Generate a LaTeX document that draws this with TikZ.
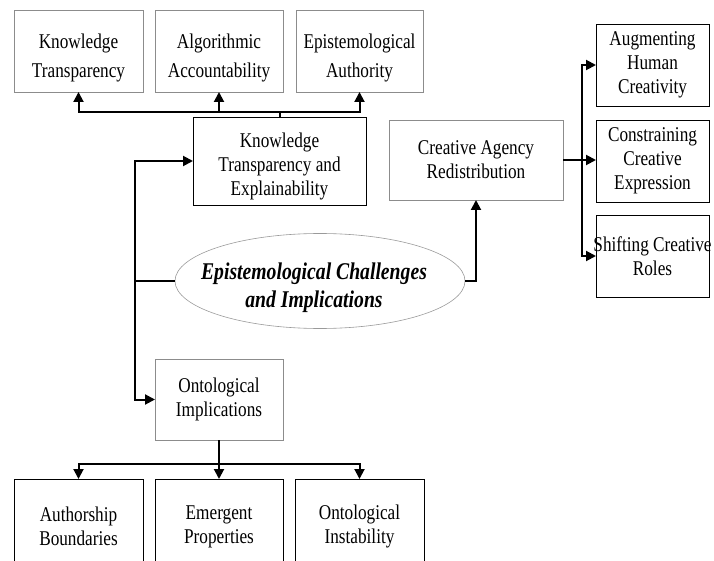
\documentclass[tikz,border=0pt]{standalone}
\usepackage{fontspec}
\setmainfont{Liberation Serif}[FakeStretch=0.82]
\usetikzlibrary{arrows.meta,shapes.geometric}
\definecolor{outlinegray}{HTML}{8C8C8C}
\definecolor{ellipsegray}{HTML}{9A9A9A}
% Invisible strut on a first line, to sit a text block a little lower.
\newcommand{\dropline}[1]{\rule{0pt}{#1}}

\begin{document}
\begin{tikzpicture}[
  x=1pt,
  y=-1pt,
  line join=miter,
  every node/.style={inner sep=0pt,outer sep=0pt,align=flush center,font=\fontsize{21}{24}\selectfont},
  softbox/.style={draw=outlinegray,line width=0.8pt},
  hardbox/.style={draw=black,line width=0.9pt},
  hub/.style={ellipse,draw=ellipsegray,line width=0.6pt,minimum width=290pt,minimum height=95pt,
    font=\fontsize{24}{28}\selectfont\bfseries\itshape},
  link/.style={draw=black,line width=2pt},
  arrow/.style={link,-{Triangle[length=10pt,width=10pt]}}
]
  % Match the screenshot frame; the bottom row runs past the lower edge.
  \useasboundingbox (0,0) rectangle (714.000,561.000);
  \clip (0,0) rectangle (714.000,561.000);

  % Bus lines shared by the branching connectors.
  \coordinate (tbus) at (0,112.000);
  \coordinate (bbus) at (0,464.000);
  \coordinate (lbus) at (135.000,0);
  \coordinate (rbus) at (582.000,0);

  % Top row: what knowledge transparency branches into.
  \node[softbox,text width=129pt,minimum height=82pt,font=\fontsize{21}{29}\selectfont]
    (kt) at (78.500,51.000) {\dropline{29pt}Knowledge\\Transparency};
  \node[softbox,text width=128pt,minimum height=82pt,font=\fontsize{21}{29}\selectfont]
    (aa) at (219.000,51.000) {\dropline{29pt}Algorithmic\\Accountability};
  \node[softbox,text width=127pt,minimum height=82pt,font=\fontsize{21}{29}\selectfont]
    (ea) at (359.500,51.000) {\dropline{29pt}Epistemological\\Authority};

  % Central ellipse and its two first-level branches on top.
  \node[hardbox,text width=173pt,minimum height=88pt]
    (kte) at (279.500,161.000) {\dropline{25pt}Knowledge\\Transparency and\\Explainability};
  \node[softbox,text width=174pt,minimum height=80pt]
    (car) at (476.000,160.000) {Creative Agency\\Redistribution};
  \node[hub] (ell) at (320.000,281.000)
    {\makebox[0pt]{\dropline{31pt}Epistemological Challenges\hspace{12pt}}\\
     \makebox[0pt]{and Implications\hspace{12pt}}};

  % Right column: effects on creative agency.
  \node[hardbox,text width=113pt,minimum height=82pt]
    (ahc) at (652.500,65.000) {Augmenting\\Human\\Creativity};
  \node[hardbox,text width=113pt,minimum height=82pt]
    (cce) at (652.500,161.000) {Constraining\\Creative\\Expression};
  \node[hardbox,text width=113pt,minimum height=82pt]
    (scr) at (652.500,256.000) {\makebox[0pt]{Shifting Creative}\\Roles};

  % Lower branch and its three outcomes.
  \node[softbox,text width=128pt,minimum height=81pt]
    (oi) at (219.000,399.500) {Ontological\\Implications};
  \node[hardbox,text width=129pt,minimum height=95pt]
    (ab) at (78.500,526.500) {Authorship\\Boundaries};
  \node[hardbox,text width=128pt,minimum height=95pt]
    (ep) at (219.000,526.500) {Emergent\\Properties};
  \node[hardbox,text width=129pt,minimum height=95pt]
    (oin) at (359.500,526.500) {Ontological\\Instability};

  % Left side: ellipse feeds the upper box and the ontological box.
  \draw[arrow] (ell.west) -- (ell.west -| lbus) |- (kte.west);
  \draw[arrow] (ell.west -| lbus) |- (oi.west);

  % Right side: ellipse up into creative agency, then out to the column.
  \draw[arrow] (ell.east) -| (car.south);
  \draw[arrow] (car.east) -- (car.east -| cce.west);
  \draw[arrow] (rbus |- car.east) |- (ahc.west);
  \draw[arrow] (rbus |- car.east) |- (scr.west);

  % Top bus from the knowledge box.
  \draw[link] (kte.north) -- (kte.north |- tbus);
  \draw[arrow] (aa.south |- tbus) -- (aa.south);
  \draw[arrow] (aa.south |- tbus) -| (kt.south);
  \draw[arrow] (aa.south |- tbus) -| (ea.south);

  % Bottom bus from the ontological box.
  \draw[arrow] (oi.south) -- (ep.north);
  \draw[arrow] (oi.south |- bbus) -| (ab.north);
  \draw[arrow] (oi.south |- bbus) -| (oin.north);
\end{tikzpicture}
\end{document}
